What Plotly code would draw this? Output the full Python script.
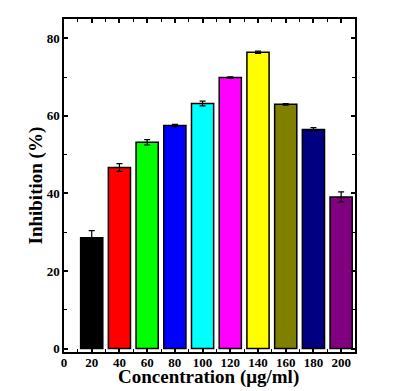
import plotly.graph_objects as go

concentrations = [20, 40, 60, 80, 100, 120, 140, 160, 180, 200]
inhibition = [28.6, 46.7, 53.2, 57.5, 63.2, 69.9, 76.4, 63.0, 56.5, 39.1]
errors = [1.8, 1.0, 0.7, 0.3, 0.6, 0.2, 0.3, 0.2, 0.5, 1.3]
colors = ["#000000", "#ff0000", "#00ff00", "#0000ff", "#00ffff",
          "#ff00ff", "#ffff00", "#808000", "#000080", "#800080"]
x_ticks = [0, 20, 40, 60, 80, 100, 120, 140, 160, 180, 200]
y_ticks = [0, 20, 40, 60, 80]
x_title = "Concentration (μg/ml)"
y_title = "Inhibition (%)"

font_family = "Liberation Serif"

fig = go.Figure()
fig.add_trace(go.Bar(
    x=concentrations, y=inhibition, width=16,
    marker=dict(color=colors, line=dict(color="black", width=1.5)),
    error_y=dict(type="data", array=errors, color="black", thickness=1.2, width=3),
    showlegend=False,
))

# page body has an 8px margin, so the figure is shifted by 8px right/down
fig.update_layout(
    width=390, height=383,
    margin=dict(l=56, r=43, t=11, b=39),
    paper_bgcolor="white", plot_bgcolor="white",
    font=dict(family=font_family, color="black"),
    xaxis=dict(
        range=[0, 210], tickvals=x_ticks, ticktext=[str(v) for v in x_ticks],
        ticks="inside", ticklen=4, tickwidth=1.5, tickcolor="black",
        showline=True, linecolor="black", linewidth=1.5, mirror="ticks",
        showgrid=False, zeroline=False, layer="below traces", automargin=False,
        ticklabelstandoff=-2,
        tickfont=dict(size=13, family=font_family, weight="bold"),
        minor=dict(tickvals=[10, 30, 50, 70, 90, 110, 130, 150, 170, 190],
                   ticks="inside", ticklen=3, tickcolor="black", tickwidth=1),
    ),
    yaxis=dict(
        range=[-0.9, 85], tickvals=y_ticks,
        ticks="inside", ticklen=4, tickwidth=1.5, tickcolor="black",
        showline=True, linecolor="black", linewidth=1.5, mirror="allticks",
        showgrid=False, zeroline=False, automargin=False,
        tickfont=dict(size=13, family=font_family, weight="bold"),
        minor=dict(tickvals=[10, 30, 50, 70], ticks="inside", ticklen=3,
                   tickcolor="black", tickwidth=1),
    ),
    annotations=[
        dict(text=x_title, xref="paper", yref="paper", x=0.5, y=0,
             xanchor="center", yanchor="middle", yshift=-25, xshift=-1,
             showarrow=False,
             font=dict(size=19, family=font_family, weight="bold")),
        dict(text=y_title, xref="paper", yref="paper", x=0, y=0.5,
             xanchor="center", yanchor="middle", xshift=-29, yshift=0,
             textangle=-90, showarrow=False,
             font=dict(size=19, family=font_family, weight="bold")),
    ],
)

fig.write_html("out.html")
